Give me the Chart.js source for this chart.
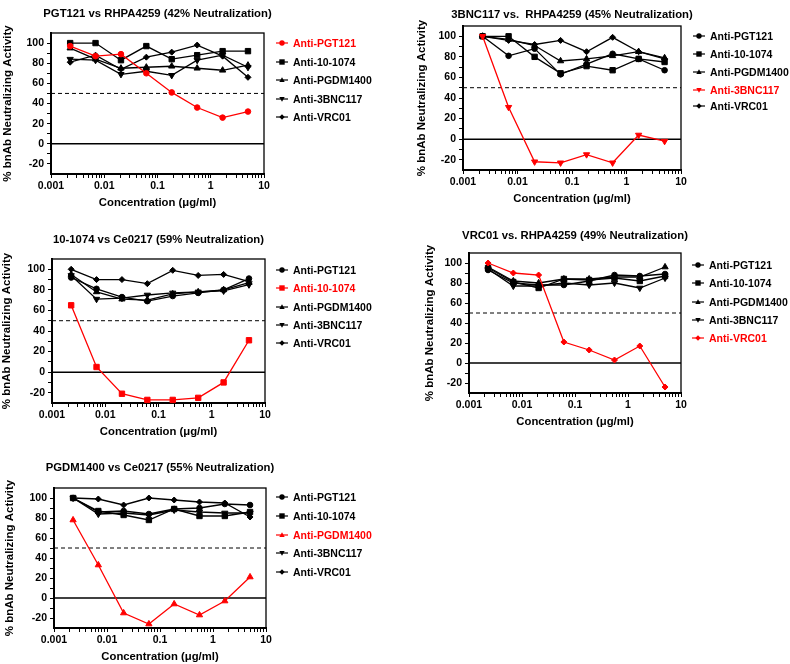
<!DOCTYPE html>
<html>
<head>
<meta charset="utf-8">
<script src="https://cdn.jsdelivr.net/npm/chart.js@4.4.1/dist/chart.umd.min.js"></script>
<style>
  body { margin: 0; background: #fff; width: 790px; height: 664px; position: relative; overflow: hidden;
         font-family: "Liberation Sans", Arial, sans-serif; color: #000; }
  canvas.plot { position: absolute; }
  .title { position: absolute; font-weight: bold; font-size: 11.3px; white-space: pre; transform: translate(-50%, -50%); }
  .legend-row { position: absolute; display: flex; align-items: center; font-weight: bold; font-size: 10.5px;
                white-space: nowrap; transform: translateY(-50%); }
  .legend-row canvas { margin-right: 5px; }
</style>
</head>
<body>
<script>
// x values (ug/ml), 3-fold dilutions
const concentrations = [0.00229, 0.00686, 0.0206, 0.0617, 0.185, 0.556, 1.67, 5];
const antibodies = ["Anti-PGT121", "Anti-10-1074", "Anti-PGDM1400", "Anti-3BNC117", "Anti-VRC01"];
const xTickLabels = ["0.001", "0.01", "0.1", "1", "10"];
const yTickLabels = [-20, 0, 20, 40, 60, 80, 100];
const yMinorTicks = [-10, 10, 30, 50, 70, 90];
const cutoff = 50;

// PGT121 vs RHPA4259
const p1PGT121 = [97, 87, 89, 70, 51, 36, 26, 32];
const p1_10_1074 = [100, 100, 83, 97, 84, 88, 92, 92];
const p1PGDM1400 = [95, 84, 75, 76, 77, 75, 73, 78];
const p1_3BNC117 = [84, 83, 69, 72, 68, 83, 88, 76];
const p1VRC01 = [81, 88, 74, 86, 91, 98, 87, 66];

// 3BNC117 vs RHPA4259
const p2PGT121 = [100, 81, 88, 63, 73, 83, 78, 67];
const p2_10_1074 = [100, 100, 80, 64, 71, 67, 78, 75];
const p2PGDM1400 = [100, 97, 91, 76, 78, 81, 85, 79];
const p2_3BNC117 = [100, 31, -22, -23, -15, -23, 4, -2];
const p2VRC01 = [100, 96, 92, 96, 85, 99, 85, 78];

// 10-1074 vs Ce0217
const p3PGT121 = [92, 81, 73, 69, 74, 77, 80, 91];
const p3_10_1074 = [65, 5, -21, -27, -27, -25, -10, 31];
const p3PGDM1400 = [95, 78, 71, 70, 76, 78, 80, 87];
const p3_3BNC117 = [94, 71, 72, 75, 77, 78, 79, 85];
const p3VRC01 = [100, 90, 90, 86, 99, 94, 95, 88];

// VRC01 vs RHPA4259
const p4PGT121 = [93, 80, 78, 78, 82, 88, 87, 89];
const p4_10_1074 = [95, 81, 75, 84, 83, 85, 82, 87];
const p4PGDM1400 = [96, 82, 80, 84, 84, 86, 86, 96];
const p4_3BNC117 = [94, 77, 77, 80, 78, 80, 75, 85];
const p4VRC01 = [100, 90, 88, 21, 13, 3, 17, -24];

// PGDM1400 vs Ce0217
const p5PGT121 = [100, 86, 87, 84, 89, 90, 94, 93];
const p5_10_1074 = [100, 87, 83, 78, 89, 82, 82, 86];
const p5PGDM1400 = [78, 33, -15, -26, -6, -17, -3, 21];
const p5_3BNC117 = [100, 84, 85, 83, 88, 86, 85, 85];
const p5VRC01 = [100, 99, 93, 100, 98, 96, 95, 81];

const FONT = '"Liberation Sans", Arial, sans-serif';
Chart.defaults.font.family = FONT;
Chart.defaults.color = "#000";

// marker per antibody: circle, square, triangle, down triangle, diamond
const markerStyles = [
  { pointStyle: "circle", radius: 2.8, rotation: 0 },
  { pointStyle: "rect", radius: 3.8, rotation: 0 },
  { pointStyle: "triangle", radius: 3.6, rotation: 0 },
  { pointStyle: "triangle", radius: 3.6, rotation: 180 },
  { pointStyle: "rectRot", radius: 3, rotation: 0 },
];

const panels = [
  { title: "PGT121 vs RHPA4259 (42% Neutralization)", series: [p1PGT121, p1_10_1074, p1PGDM1400, p1_3BNC117, p1VRC01],
    red: 0, L: 51, T: 33, R: 264, B: 174, W: 50, titleY: 13, legendX: 276, legendY: [43, 62, 80, 99, 117] },
  { title: "3BNC117 vs.  RHPA4259 (45% Neutralization)", series: [p2PGT121, p2_10_1074, p2PGDM1400, p2_3BNC117, p2VRC01],
    red: 3, L: 463, T: 26, R: 681, B: 170, W: 48, titleY: 14, legendX: 693, legendY: [36, 54, 72, 90, 106] },
  { title: "10-1074 vs Ce0217 (59% Neutralization)", series: [p3PGT121, p3_10_1074, p3PGDM1400, p3_3BNC117, p3VRC01],
    red: 1, L: 52, T: 259, R: 265, B: 403, W: 52, titleY: 239, legendX: 276, legendY: [270, 288, 307, 325, 343] },
  { title: "VRC01 vs. RHPA4259 (49% Neutralization)", series: [p4PGT121, p4_10_1074, p4PGDM1400, p4_3BNC117, p4VRC01],
    red: 4, L: 469, T: 253, R: 681, B: 393, W: 46, titleY: 235, legendX: 692, legendY: [265, 283, 302, 320, 338] },
  { title: "PGDM1400 vs Ce0217 (55% Neutralization)", series: [p5PGT121, p5_10_1074, p5PGDM1400, p5_3BNC117, p5VRC01],
    red: 2, L: 54, T: 488, R: 266, B: 628, W: 51, titleY: 467, legendX: 276, legendY: [497, 516, 535, 553, 572] },
];

const xTicks = [];
xTickLabels.forEach((label, i) => {
  const base = Number(label);
  if (i === xTickLabels.length - 1) { xTicks.push(base); return; }
  for (let k = 1; k <= 9; k++) xTicks.push(+(base * k).toPrecision(3));
});
const yTicks = [...yTickLabels, ...yMinorTicks].sort((a, b) => a - b);

const framePlugin = {
  id: "frame",
  beforeDatasetsDraw(chart) {
    const { ctx, chartArea: a } = chart;
    ctx.save();
    ctx.strokeStyle = "#000";
    ctx.lineWidth = 1.3;
    ctx.strokeRect(a.left, a.top, a.right - a.left, a.bottom - a.top);
    ctx.restore();
  },
};

function drawLegendIcon(canvas, style, color) {
  const ctx = canvas.getContext("2d");
  const y = canvas.height / 2, x = 6;
  ctx.strokeStyle = color;
  ctx.fillStyle = color;
  ctx.lineWidth = 1.2;
  ctx.beginPath();
  ctx.moveTo(0, y);
  ctx.lineTo(12, y);
  ctx.stroke();
  const r = 2.7;
  ctx.beginPath();
  if (style === 0) ctx.arc(x, y, r, 0, Math.PI * 2);
  else if (style === 1) ctx.rect(x - r, y - r, 2 * r, 2 * r);
  else if (style === 2) { ctx.moveTo(x, y - r); ctx.lineTo(x + r, y + r * 0.7); ctx.lineTo(x - r, y + r * 0.7); }
  else if (style === 3) { ctx.moveTo(x, y + r); ctx.lineTo(x + r, y - r * 0.7); ctx.lineTo(x - r, y - r * 0.7); }
  else { ctx.moveTo(x - r, y); ctx.lineTo(x, y - r); ctx.lineTo(x + r, y); ctx.lineTo(x, y + r); }
  ctx.closePath();
  ctx.fill();
}

function refLine(value, dash, width) {
  return {
    data: [{ x: 0.001, y: value }, { x: 10, y: value }],
    borderColor: "#000",
    borderWidth: width,
    borderDash: dash,
    pointRadius: 0,
    order: 10,
  };
}

function renderPanel(p) {
  const padTop = 40, padRight = 10, xAxisH = 36;
  const canvas = document.createElement("canvas");
  canvas.className = "plot";
  canvas.width = p.W + (p.R - p.L) + padRight;
  canvas.height = padTop + (p.B - p.T) + xAxisH;
  canvas.style.left = p.L - p.W + "px";
  canvas.style.top = p.T - padTop + "px";
  document.body.appendChild(canvas);

  const datasets = p.series.map((values, i) => {
    const color = i === p.red ? "#ff0000" : "#000";
    const m = markerStyles[i];
    return {
      label: antibodies[i],
      data: values.map((y, j) => ({ x: concentrations[j], y })),
      borderColor: color,
      backgroundColor: color,
      borderWidth: 1.3,
      pointStyle: m.pointStyle,
      pointRotation: m.rotation,
      pointRadius: m.radius,
      pointBorderWidth: 1,
      pointBorderColor: color,
      pointBackgroundColor: color,
      order: i === p.red ? -1 : 0,
      clip: false,
    };
  });
  datasets.push(refLine(cutoff, [4, 3], 1));
  datasets.push(refLine(0, [], 1.5));

  new Chart(canvas, {
    type: "line",
    data: { datasets },
    options: {
      responsive: false,
      animation: false,
      devicePixelRatio: 1,
      layout: { padding: { top: padTop, right: padRight, left: 0, bottom: 0 } },
      plugins: { legend: { display: false }, tooltip: { enabled: false } },
      scales: {
        x: {
          type: "logarithmic",
          min: 0.001,
          max: 10,
          afterBuildTicks: (scale) => { scale.ticks = xTicks.map((value) => ({ value })); },
          afterFit: (scale) => { scale.height = xAxisH; },
          ticks: {
            autoSkip: false,
            maxRotation: 0,
            padding: 2,
            font: { size: 10.5, weight: "bold" },
            callback: (value) => {
              const label = xTickLabels.find((l) => Math.abs(Number(l) - value) < Number(l) * 1e-6);
              return label || "";
            },
          },
          grid: { drawOnChartArea: false, drawTicks: true, tickLength: 4, color: "#000", tickWidth: 1 },
          border: { display: true, color: "#000", width: 2 },
          title: { display: true, text: "Concentration (μg/ml)", font: { size: 11.3, weight: "bold" }, padding: 0 },
        },
        y: {
          type: "linear",
          min: -30,
          max: 110,
          afterBuildTicks: (scale) => { scale.ticks = yTicks.map((value) => ({ value })); },
          afterFit: (scale) => { scale.width = p.W; },
          ticks: {
            autoSkip: false,
            padding: 3,
            font: { size: 10.5, weight: "bold" },
            callback: (value) => (yTickLabels.includes(value) ? String(value) : ""),
          },
          grid: { drawOnChartArea: false, drawTicks: true, tickLength: 4, color: "#000", tickWidth: 1 },
          border: { display: true, color: "#000", width: 2 },
          title: { display: true, text: "% bnAb Neutralizing Activity", font: { size: 11.5, weight: "bold" }, padding: 0 },
        },
      },
    },
    plugins: [framePlugin],
  });

  const title = document.createElement("div");
  title.className = "title";
  title.textContent = p.title;
  title.style.left = (p.L + p.R) / 2 + "px";
  title.style.top = p.titleY + "px";
  document.body.appendChild(title);

  antibodies.forEach((name, i) => {
    const color = i === p.red ? "#ff0000" : "#000";
    const row = document.createElement("div");
    row.className = "legend-row";
    row.style.left = p.legendX + "px";
    row.style.top = p.legendY[i] + "px";
    row.style.color = color;
    const icon = document.createElement("canvas");
    icon.width = 12;
    icon.height = 10;
    drawLegendIcon(icon, i, color);
    row.appendChild(icon);
    row.appendChild(document.createTextNode(name));
    document.body.appendChild(row);
  });
}

panels.forEach(renderPanel);
</script>
</body>
</html>
